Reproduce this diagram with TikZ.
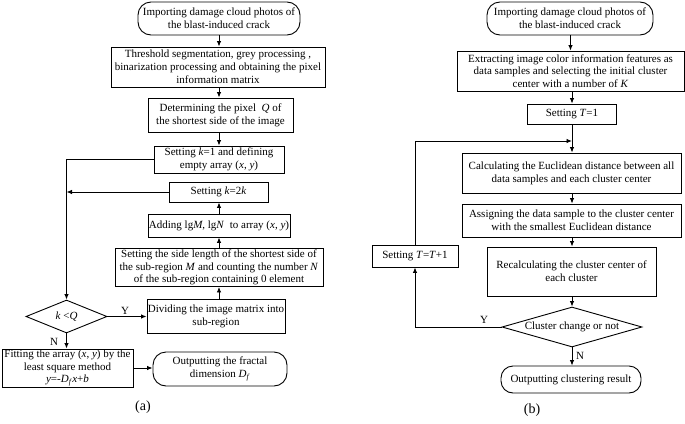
\documentclass[tikz,border=0pt]{standalone}
\usepackage{fontspec}
\setmainfont{Liberation Serif}
\usetikzlibrary{shapes.geometric,arrows.meta}
\begin{document}
\begin{tikzpicture}[x=1pt,y=-1pt,
  every node/.style={font=\fontsize{11}{12.8}\selectfont, align=center, inner sep=0pt, line width=0.9pt},
  box/.style={draw, rectangle},
  term/.style={draw, rectangle, rounded corners=13pt},
  dec/.style={draw, diamond},
  arr/.style={-{Latex[length=5.5pt,width=4.5pt]}, line width=0.9pt},
  plain/.style={line width=0.9pt},
  captxt/.style={font=\fontsize{14}{16}\selectfont}]
\useasboundingbox (0,0) rectangle (685,423);
% ---------- (a) ----------
\node[term, minimum width=162pt, minimum height=33pt] (a1) at (219,18.5) {Importing damage cloud photos of\\the blast-induced crack};
\node[box, minimum width=214pt, minimum height=40pt] (a2) at (218,67) {Threshold segmentation, grey processing ,\\binarization processing and obtaining the pixel\\information matrix};
\node[box, minimum width=145pt, minimum height=34pt] (a3) at (220.5,115) {Determining the pixel \ \textit{Q} of\\the shortest side of the image};
\node[box, minimum width=130pt, minimum height=27pt] (a4) at (219,159.5) {Setting \textit{k}=1 and defining\\empty array (\textit{x}, \textit{y})};
\node[box, minimum width=99pt, minimum height=20pt] (a5) at (218.5,192) {Setting \textit{k}=2\textit{k}};
\node[box, minimum width=142pt, minimum height=23pt] (a6) at (219,225.5) {Adding lg\textit{M}, lg\textit{N} \ to array (\textit{x}, \textit{y})};
\node[box, minimum width=208pt, minimum height=38pt] (a7) at (219,267.5) {Setting the side length of the shortest side of\\the sub-region \textit{M} and counting the number \textit{N}\\of the sub-region containing 0 element};
\node[box, minimum width=138pt, minimum height=34pt] (a8) at (216,316) {Dividing the image matrix into\\sub-region};
\node[dec, aspect=2.45, minimum width=81pt, minimum height=33pt] (ad) at (66.5,316.5) {\textit{k} <\textit{Q}};
\node[box, minimum width=131pt, minimum height=38pt] (a9) at (67.5,368) {Fitting the array (\textit{x}, \textit{y}) by the\\least square method\\\textit{y}=-\textit{D}\textsubscript{\textit{f}}\textit{x}+\textit{b}};
\node[term, minimum width=134pt, minimum height=34pt] (a10) at (220,369) {Outputting the fractal\\dimension \textit{D}\textsubscript{\textit{f}}};
\node (ly) at (125,311) {Y};
\node (lnn) at (54,342) {N};
\node[captxt] (capa) at (143,407) {(a)};
\draw[arr] (a1.south) -- (a1.south |- a2.north);
\draw[arr] (a2.south -| a1.south) -- (a1.south |- a3.north);
\draw[arr] (a3.south -| a4.north) -- (a4.north);
\draw[arr] (a8.north -| a7.south) -- (a7.south);
\draw[arr] (a7.north) -- (a7.north |- a6.south);
\draw[arr] (a6.north) -- (a6.north |- a5.south);
\draw[arr] (a5.west) -- (a5.west -| ad.north);
\draw[arr] (a4.west) -| (ad.north);
\draw[arr] (ad.east) -- (ad.east -| a8.west);
\draw[arr] (ad.south) -- (ad.south |- a9.north);
\draw[arr] (a9.east) -- (a9.east -| a10.west);
% ---------- (b) ----------
\node[term, minimum width=166pt, minimum height=33pt] (b1) at (570,18.5) {Importing damage cloud photos of\\the blast-induced crack};
\node[box, minimum width=227pt, minimum height=40pt] (b2) at (570.5,71) {Extracting image color information features as\\data samples and selecting the initial cluster\\center with a number of \textit{K}};
\node[box, minimum width=89pt, minimum height=20pt] (b3) at (572,114) {Setting \textit{T}=1};
\node[box, minimum width=219pt, minimum height=40pt] (b4) at (571.5,173) {Calculating the Euclidean distance between all\\data samples and each cluster center};
\node[box, minimum width=219pt, minimum height=33pt] (b5) at (571.5,220.5) {Assigning the data sample to the cluster center\\with the smallest Euclidean distance};
\node[box, minimum width=169pt, minimum height=49pt, text depth=-6pt] (b6) at (571.5,271.5) {Recalculating the cluster center of\\each cluster};
\node[box, minimum width=86pt, minimum height=22pt] (bt) at (415,256) {Setting \textit{T}=\textit{T}+1};
\node[dec, aspect=3.5, minimum width=140pt, minimum height=40pt] (bd) at (572,327) {Cluster change or not};
\node[term, minimum width=140pt, minimum height=27pt, rounded corners=12pt] (b7) at (571,379.5) {Outputting clustering result};
\node (ry) at (484,320) {Y};
\node (rn) at (580,356) {N};
\node[captxt] (capb) at (532,410) {(b)};
\coordinate (jb) at (572,141);
\draw[arr] (b1.south -| b2.north) -- (b2.north);
\draw[arr] (b2.south -| b3.north) -- (b3.north);
\draw[plain] (b3.south) -- (jb);
\draw[arr] (jb) -- (jb |- b4.north);
\draw[arr] (bt.north) |- (jb);
\draw[arr] (b4.south -| bd.north) -- (bd.north |- b5.north);
\draw[arr] (b5.south -| bd.north) -- (bd.north |- b6.north);
\draw[arr] (b6.south -| bd.north) -- (bd.north);
\draw[arr] (bd.south) -- (bd.south |- b7.north);
\draw[arr] (bd.west) -| (bt.south);
\end{tikzpicture}
\end{document}
